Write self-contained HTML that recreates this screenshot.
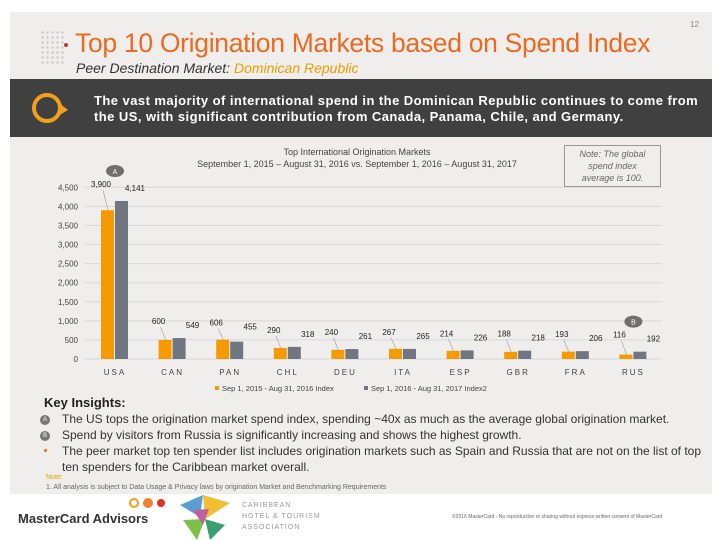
<!DOCTYPE html>
<html><head><meta charset="utf-8"><style>
body{margin:0;width:720px;height:540px;background:#fff;font-family:"Liberation Sans",sans-serif;position:relative;overflow:hidden}
.abs{position:absolute}
</style></head><body>
<div class="abs" style="left:10px;top:12px;width:702px;height:482px;background:#efeeed"></div>
<div class="abs" style="left:690px;top:20px;font-size:8px;color:#888">12</div>
<div class="abs" style="left:40px;top:30px;width:24px;height:36px;background:radial-gradient(circle,#ccc 1px,transparent 1.5px) 0 0/5px 5px"></div>
<div class="abs" style="left:64px;top:43px;width:4px;height:4px;border-radius:50%;background:#c0392b"></div>
<div class="abs" style="left:75px;top:28px;font-size:26.5px;color:#ec6a1f;white-space:nowrap;letter-spacing:-0.3px">Top 10 Origination Markets based on Spend Index</div>
<div class="abs" style="left:76px;top:60px;font-size:14px;font-style:italic;color:#333;white-space:nowrap">Peer Destination Market: <span style="color:#e8a000">Dominican Republic</span></div>
<div class="abs" style="left:10px;top:79px;width:702px;height:58px;background:#404040"></div>
<svg class="abs" style="left:30px;top:88px" width="40" height="40"><circle cx="17" cy="20" r="13" fill="none" stroke="#f5a01a" stroke-width="4"/><polygon points="28,14 38,22 28,28" fill="#f5a01a"/></svg>
<div class="abs" style="left:94px;top:93px;width:618px;font-size:13px;font-weight:bold;color:#fff;line-height:16px;letter-spacing:0.45px;white-space:nowrap">The vast majority of international spend in the Dominican Republic continues to come from<br>the US, with significant contribution from Canada, Panama, Chile, and Germany.</div>

<svg class="abs" id="chart" style="left:0;top:0" width="720" height="400"></svg>

<div class="abs" style="left:564px;top:145px;width:95px;height:38px;border:1px solid #999;font-size:9px;font-style:italic;color:#666;text-align:center;line-height:12px;padding-top:2px"><div style="margin:0 8px">Note: The global spend index average is 100.</div></div>

<div class="abs" style="left:44px;top:395px;font-size:13px;font-weight:bold;color:#222">Key Insights:</div>
<div class="abs" style="left:62px;top:411px;width:645px;font-size:12px;color:#333;line-height:16px">
<div>The US tops the origination market spend index, spending ~40x as much as the average global origination market.</div>
<div>Spend by visitors from Russia is significantly increasing and shows the highest growth.</div>
<div>The peer market top ten spender list includes origination markets such as Spain and Russia that are not on the list of top ten spenders for the Caribbean market overall.</div>
</div>
<div class="abs" style="left:40px;top:415px;width:10px;height:10px;border-radius:50%;background:#777;color:#fff;font-size:6px;text-align:center;line-height:10px">A</div>
<div class="abs" style="left:40px;top:431px;width:10px;height:10px;border-radius:50%;background:#777;color:#fff;font-size:6px;text-align:center;line-height:10px">B</div>
<div class="abs" style="left:44px;top:449px;width:3px;height:3px;background:#f08030"></div>
<div class="abs" style="left:46px;top:474px;font-size:7px;color:#e8a000">Note:</div>
<div class="abs" style="left:46px;top:484px;font-size:7px;color:#666">1. All analysis is subject to Data Usage &amp; Privacy laws by origination Market and Benchmarking Requirements</div>

<div class="abs" style="left:18px;top:511px;font-size:13px;font-weight:bold;color:#333">MasterCard Advisors</div>
<svg class="abs" style="left:128px;top:497px" width="40" height="12"><circle cx="6" cy="6" r="4" fill="none" stroke="#f5a01a" stroke-width="2"/><circle cx="20" cy="6" r="5" fill="#f08030"/><circle cx="33" cy="6" r="4" fill="#e03020"/></svg>
<svg class="abs" style="left:175px;top:495px" width="58" height="45"><polygon points="5,10 28,0 25,22" fill="#5a9fd4"/><polygon points="28,0 55,8 30,24" fill="#f0c030"/><polygon points="8,25 30,24 22,45" fill="#7cc04a"/><polygon points="30,24 50,30 35,45" fill="#3aa070"/><polygon points="18,15 34,14 28,30" fill="#c060a0"/></svg>
<div class="abs" style="left:242px;top:500px;font-size:7px;color:#999;line-height:11px;letter-spacing:1px">CARIBBEAN<br>HOTEL &amp; TOURISM<br>ASSOCIATION</div>
<div class="abs" style="left:452px;top:514px;font-size:5px;color:#666;white-space:nowrap">©2016 MasterCard - No reproduction or sharing without express written consent of MasterCard</div>

<script>
const categories=["USA","CAN","PAN","CHL","DEU","ITA","ESP","GBR","FRA","RUS"];
const series2016=[3900,500,506,290,240,267,214,188,193,116];
const series2017=[4141,549,455,318,261,265,226,218,206,192];
const labels2016=["3,900","600","606","290","240","267","214","188","193","116"];
const labels2017=["4,141","549","455","318","261","265","226","218","206","192"];
const yTicks=[0,500,1000,1500,2000,2500,3000,3500,4000,4500];
const yTickLabels=["0","500","1,000","1,500","2,000","2,500","3,000","3,500","4,000","4,500"];
const NS="http://www.w3.org/2000/svg";
const svg=document.getElementById('chart');
const y0=359,yTop=187.3,yMax=4500;
const y=v=>y0-(v/yMax)*(y0-yTop);
const x=i=>115+i*57.6;
function mk(tag,attrs,text){const e=document.createElementNS(NS,tag);for(const k in attrs)e.setAttribute(k,attrs[k]);if(text!==undefined)e.textContent=text;svg.appendChild(e);return e;}
let t=mk('text',{x:357,y:155,'font-size':9,fill:'#444','text-anchor':'middle','font-family':'Liberation Sans'},'Top International Origination Markets');

t=mk('text',{x:357,y:167,'font-size':9,fill:'#444','text-anchor':'middle','font-family':'Liberation Sans'},'September 1, 2015 – August 31, 2016 vs. September 1, 2016 – August 31, 2017');

yTicks.forEach((v,i)=>{
 const l=mk('line',{x1:85,x2:662,y1:y(v),y2:y(v),stroke:'#d8d8d8','stroke-width':1});
 
 const tl=mk('text',{x:78,y:y(v)+3,'font-size':8,fill:'#444','text-anchor':'end','font-family':'Liberation Sans'},yTickLabels[i]);
 
});
categories.forEach((c,i)=>{
 const cx=x(i);
 const b1=mk('rect',{x:cx-14,y:y(series2016[i]),width:13,height:y0-y(series2016[i]),fill:'#f59a00'});
 
 const b2=mk('rect',{x:cx,y:y(series2017[i]),width:13,height:y0-y(series2017[i]),fill:'#6f7681'});
 
 const ly1=Math.min(y(series2016[i]),y(series2017[i]))-14;
 const v1=mk('text',{x:cx-14,y:ly1,'font-size':8,fill:'#222','text-anchor':'middle','font-family':'Liberation Sans'},labels2016[i]);
 
 const v2=mk('text',{x:cx+20,y:ly1+4,'font-size':8,fill:'#222','text-anchor':'middle','font-family':'Liberation Sans'},labels2017[i]);
 
 const ll=mk('line',{x1:cx-12,y1:ly1+3,x2:cx-7,y2:y(series2016[i]),stroke:'#999','stroke-width':0.6});
 
 const cl=mk('text',{x:cx,y:375,'font-size':8,fill:'#444','text-anchor':'middle','letter-spacing':2,'font-family':'Liberation Sans'},c);
 
});
[[0,'A'],[9,'B']].forEach(([i,s])=>{
 const top=Math.min(y(series2016[i]),y(series2017[i]))-30;
 const e=mk('ellipse',{cx:x(i),cy:top,rx:9,ry:6,fill:'#6f6f6f'});
 
 const tt=mk('text',{x:x(i),y:top+3,'font-size':7,fill:'#fff','text-anchor':'middle','font-family':'Liberation Sans'},s);
 
});
const lg1=mk('rect',{x:215,y:386,width:4,height:4,fill:'#f59a00'});

const lt1=mk('text',{x:222,y:391,'font-size':7.5,fill:'#444','font-family':'Liberation Sans'},'Sep 1, 2015 - Aug 31, 2016 Index');

const lg2=mk('rect',{x:364,y:386,width:4,height:4,fill:'#6f7681'});

const lt2=mk('text',{x:371,y:391,'font-size':7.5,fill:'#444','font-family':'Liberation Sans'},'Sep 1, 2016 - Aug 31, 2017 Index2');

</script>
</body></html>
